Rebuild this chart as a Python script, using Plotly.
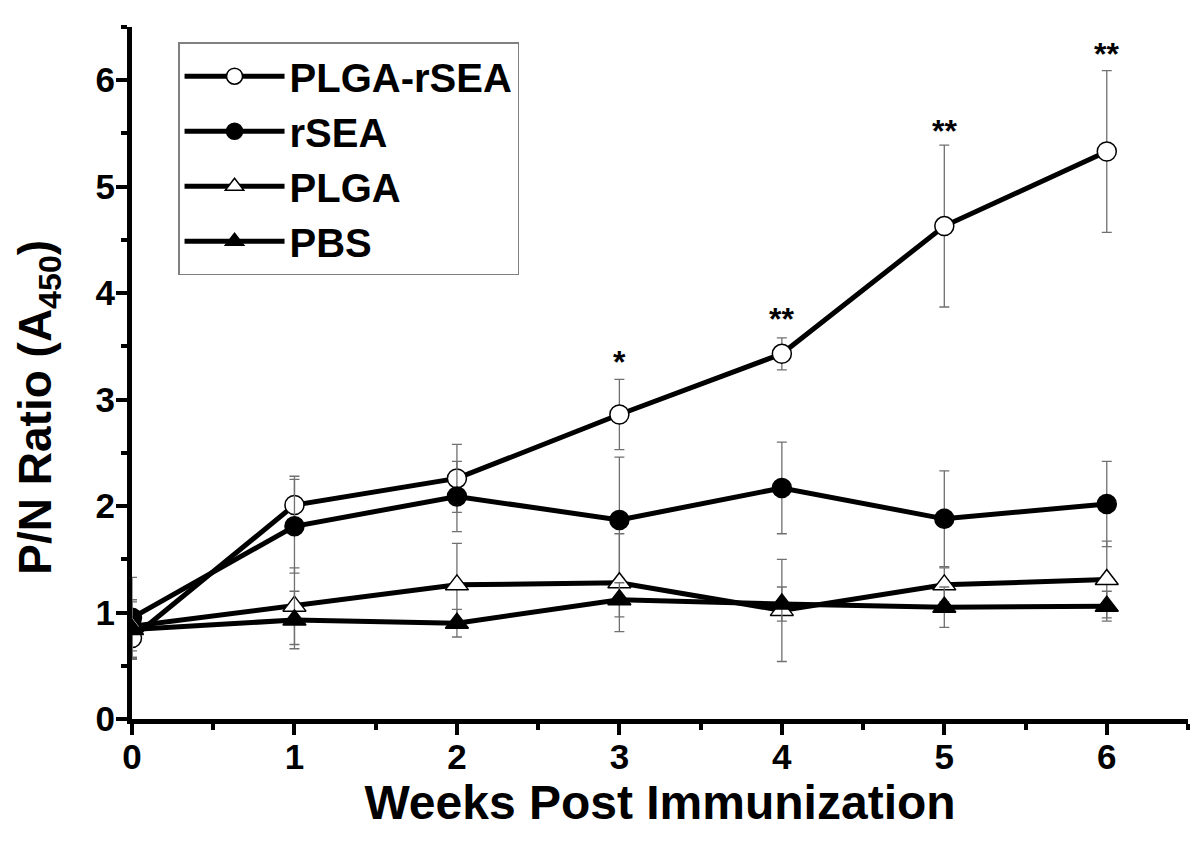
import plotly.graph_objects as go

weeks = [0, 1, 2, 3, 4, 5, 6]

plga_rsea = [0.76, 2.01, 2.26, 2.86, 3.43, 4.63, 5.33]
plga_rsea_err = [0.18, 0.27, 0.32, 0.33, 0.15, 0.76, 0.76]

rsea = [0.95, 1.81, 2.09, 1.87, 2.17, 1.88, 2.02]
rsea_err = [0.38, 0.44, 0.33, 0.59, 0.43, 0.45, 0.40]

plga = [0.87, 1.06, 1.26, 1.28, 1.02, 1.26, 1.31]
plga_err = [0.23, 0.36, 0.39, 0.46, 0.48, 0.16, 0.36]

pbs = [0.84, 0.93, 0.90, 1.12, 1.08, 1.05, 1.06]
pbs_err = [0.28, 0.27, 0.13, 0.16, 0.16, 0.19, 0.14]

sig_x = [3, 4, 5, 6]
sig_y = [3.35, 3.76, 5.52, 6.25]
sig_text = ["*", "**", "**", "**"]

series = [
    ("PLGA-rSEA", plga_rsea, plga_rsea_err, "circle", "white", 19),
    ("rSEA", rsea, rsea_err, "circle", "black", 19),
    ("PLGA", plga, plga_err, "triangle-up", "white", 20),
    ("PBS", pbs, pbs_err, "triangle-up", "black", 20),
]

FONT = "Arial, Liberation Sans, sans-serif"

fig = go.Figure()
for name, vals, errs, sym, fill, size in series:
    fig.add_trace(go.Scatter(
        x=weeks, y=vals, name=name, mode="lines+markers",
        line=dict(color="black", width=5),
        marker=dict(symbol=sym, color=fill, size=size,
                    line=dict(color="black", width=1.5)),
        error_y=dict(type="data", array=errs, visible=True,
                     color="#707070", thickness=1.3, width=5),
    ))

for xs, ys, t in zip(sig_x, sig_y, sig_text):
    fig.add_annotation(x=xs, y=ys, text=t, showarrow=False,
                       font=dict(family=FONT, size=32, color="black", weight="bold"))

# y-axis title (rotated text, slightly below the axis centre as in the original)
fig.add_annotation(
    xref="paper", yref="paper", x=-0.088, y=0.45,
    xanchor="center", yanchor="middle", textangle=-90, showarrow=False,
    text="P/N Ratio (A<sub>450</sub>)",
    font=dict(family=FONT, size=46, color="black", weight="bold"),
)

axis_common = dict(
    showline=True, linewidth=5, linecolor="black",
    ticks="outside", ticklen=11, tickwidth=4, tickcolor="black",
    showgrid=False, zeroline=False, mirror=False,
    tickfont=dict(family=FONT, size=35, color="black", weight="bold"),
)

fig.update_xaxes(
    range=[0, 6.5], dtick=1, tick0=0,
    minor=dict(dtick=0.5, ticklen=6, tickwidth=4, tickcolor="black", ticks="outside"),
    ticklabelstandoff=-8,
    title=dict(text="Weeks Post Immunization", standoff=9,
               font=dict(family=FONT, size=48, color="black", weight="bold")),
    **axis_common,
)
fig.update_yaxes(
    range=[0, 6.5], dtick=1, tick0=0,
    minor=dict(dtick=0.5, ticklen=6, tickwidth=4, tickcolor="black", ticks="outside"),
    ticklabelstandoff=-6,
    **axis_common,
)

fig.update_layout(
    width=1200, height=848,
    margin=dict(l=124, r=20, t=19, b=137, autoexpand=False),
    paper_bgcolor="white", plot_bgcolor="white",
    showlegend=True,
    legend=dict(
        x=0.0436, y=0.978, xanchor="left", yanchor="top",
        bgcolor="white", bordercolor="#808080", borderwidth=1.5,
        font=dict(family=FONT, size=40, color="black", weight="bold"),
        itemwidth=100, tracegroupgap=0,
    ),
)

fig.write_html("out.html")
